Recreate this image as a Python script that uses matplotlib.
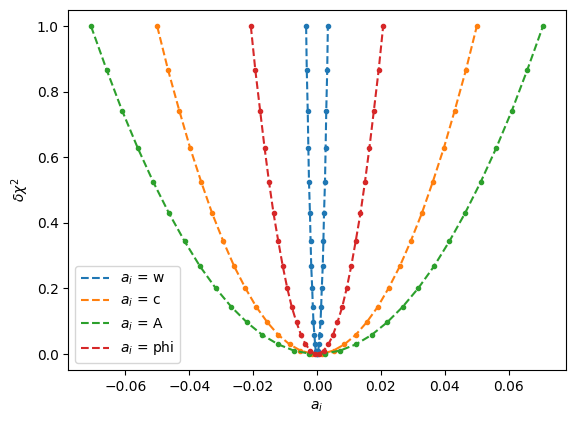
import matplotlib
matplotlib.use("Agg")
import matplotlib.pyplot as plt

labels = ["w", "c", "A", "phi"]
colors = ["#1f77b4", "#ff7f0e", "#2ca02c", "#d62728"]

# delta chi^2 values (shared grid of points for every parameter)
dchi2 = [1.0, 0.8668, 0.7432, 0.6290, 0.5244, 0.4293, 0.3436, 0.2675, 0.2010, 0.1439,
         0.0963, 0.0583, 0.0297, 0.0107, 0.0012,
         0.0012, 0.0107, 0.0297, 0.0583, 0.0963, 0.1439, 0.2010, 0.2675, 0.3436, 0.4293,
         0.5244, 0.6290, 0.7432, 0.8668, 1.0]

a_w = [-0.0034, -0.0032, -0.0029, -0.0027, -0.0025, -0.0022, -0.0020, -0.0018, -0.0015, -0.0013,
       -0.0011, -0.0008, -0.0006, -0.0004, -0.0001,
       0.0001, 0.0004, 0.0006, 0.0008, 0.0011, 0.0013, 0.0015, 0.0018, 0.0020, 0.0022,
       0.0025, 0.0027, 0.0029, 0.0032, 0.0034]
a_c = [-0.0500, -0.0466, -0.0431, -0.0397, -0.0362, -0.0328, -0.0293, -0.0259, -0.0224, -0.0190,
       -0.0155, -0.0121, -0.0086, -0.0052, -0.0017,
       0.0017, 0.0052, 0.0086, 0.0121, 0.0155, 0.0190, 0.0224, 0.0259, 0.0293, 0.0328,
       0.0362, 0.0397, 0.0431, 0.0466, 0.0500]
a_A = [-0.0707, -0.0658, -0.0610, -0.0561, -0.0512, -0.0463, -0.0414, -0.0366, -0.0317, -0.0268,
       -0.0219, -0.0171, -0.0122, -0.0073, -0.0024,
       0.0024, 0.0073, 0.0122, 0.0171, 0.0219, 0.0268, 0.0317, 0.0366, 0.0414, 0.0463,
       0.0512, 0.0561, 0.0610, 0.0658, 0.0707]
a_phi = [-0.0207, -0.0193, -0.0178, -0.0164, -0.0150, -0.0136, -0.0121, -0.0107, -0.0093, -0.0079,
         -0.0064, -0.0050, -0.0036, -0.0021, -0.0007,
         0.0007, 0.0021, 0.0036, 0.0050, 0.0064, 0.0079, 0.0093, 0.0107, 0.0121, 0.0136,
         0.0150, 0.0164, 0.0178, 0.0193, 0.0207]

series = [a_w, a_c, a_A, a_phi]

fig = plt.figure(figsize=(5.74, 4.33), dpi=100)
ax = fig.add_axes([0.1193, 0.1455, 0.8659, 0.8314])

for xs, lab, col in zip(series, labels, colors):
    ax.plot(xs, dchi2, "--", color=col, label=r"$a_i$ = " + lab)
    ax.plot(xs, dchi2, ".", color=col)

ax.set_xlabel(r"$a_i$")
ax.set_ylabel(r"$\delta\chi^2$")
ax.legend(loc="lower left")

fig.savefig("out.png", dpi=100)
